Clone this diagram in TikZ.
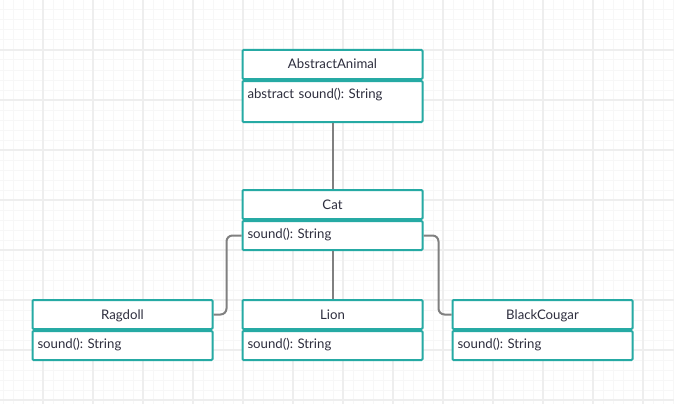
\documentclass[tikz,border=0pt]{standalone}
\usepackage{fontspec}
\setmainfont{Lato}
\usetikzlibrary{positioning}
\frenchspacing

\definecolor{umlteal}{RGB}{38,170,164}
\definecolor{umltext}{RGB}{46,46,62}
\definecolor{linkgray}{RGB}{128,128,128}
\definecolor{gridmajor}{RGB}{238,238,238}
\definecolor{gridminor}{RGB}{247,247,247}

\tikzset{
    classname/.style={draw=umlteal, fill=white, line width=2pt, rounded corners=1pt,
        minimum width=180pt, inner xsep=5pt, inner ysep=0pt,
        text height=19pt, text depth=10pt, text=umltext, font=\fontsize{13.2}{15}\selectfont},
    classbody/.style={classname, text width=170pt, align=left,
        text height=17.5pt, text depth=11.5pt},
    link/.style={draw=linkgray, line width=2pt, rounded corners=6pt}
}

\begin{document}
\begin{tikzpicture}[x=1pt, y=-1pt]
        \useasboundingbox (0,0) rectangle (674,404);
        \fill[white] (0,0) rectangle (674,404);
        % background grid
        \foreach \x in {3,13,...,673} \draw[gridminor, line width=1pt] (\x,0) -- (\x,404);
        \foreach \y in {0,10,...,400} \draw[gridminor, line width=1pt] (0,\y) -- (674,\y);
        \foreach \x in {43,93,...,643} \draw[gridmajor, line width=1.5pt] (\x,0) -- (\x,404);
        \foreach \y in {50,100,...,400} \draw[gridmajor, line width=1.5pt] (0,\y) -- (674,\y);

        % classes
        \node[classname] (animal) at (332.5,64.5) {AbstractAnimal};
        \node[classbody, below=0pt of animal, text depth=23.5pt] (animalbody) {abstract sound(): String};

        \node[classname] (cat) at (332.5,204.5) {Cat};
        \node[classbody, below=0pt of cat] (catbody) {sound(): String};

        \node[classname] (ragdoll) at (122.5,314.5) {Ragdoll};
        \node[classbody, below=0pt of ragdoll] (ragdollbody) {sound(): String};

        \node[classname] (lion) at (332.5,314.5) {Lion};
        \node[classbody, below=0pt of lion] (lionbody) {sound(): String};

        \node[classname] (cougar) at (542.5,314.5) {BlackCougar};
        \node[classbody, below=0pt of cougar] (cougarbody) {sound(): String};

        % inheritance links
        \draw[link] (animalbody.south) -- (cat.north);
        \draw[link] (catbody.south) -- (lion.north);
        \draw[link] (catbody.west) -- ++(-15,0) |- (ragdoll.east);
        \draw[link] (catbody.east) -- ++(15,0) |- (cougar.west);
    \end{tikzpicture}
\end{document}
